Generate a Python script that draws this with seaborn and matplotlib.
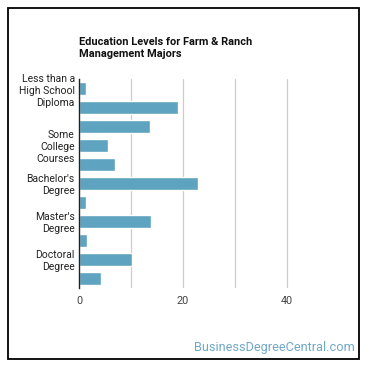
import matplotlib
matplotlib.use('Agg')
import matplotlib.pyplot as plt
from matplotlib.patches import Rectangle
import seaborn as sns
import pandas as pd

categories = [
    'Less than a High School Diploma',
    'High School Diploma',
    'Post-Secondary Certificate',
    'Some College Courses',
    "Associate's Degree",
    "Bachelor's Degree",
    'Post-Baccalaureate Certificate',
    "Master's Degree",
    "Post-Master's Certificate",
    'Doctoral Degree',
    'Post-Doctoral Training',
]
percents = [1.4, 19.1, 13.7, 5.6, 7.0, 22.9, 1.4, 13.9, 1.6, 10.1, 4.3]
# only some labels fit on the axis
shown_labels = ['Less than a\nHigh School\nDiploma', '', '', 'Some\nCollege\nCourses', '',
                "Bachelor's\nDegree", '', "Master's\nDegree", '', 'Doctoral\nDegree', '']
x_ticks = [0, 20, 40]
grid_lines = [10, 20, 30, 40]

title = 'Education Levels for Farm & Ranch\nManagement Majors'
watermark = 'BusinessDegreeCentral.com'

sns.set_style('white')
plt.rcParams['font.family'] = ['Roboto', 'DejaVu Sans']

df = pd.DataFrame({'level': categories, 'pct': percents})

fig = plt.figure(figsize=(3.7, 3.7), dpi=100)
ax = fig.add_axes([79 / 370, 1 - 288 / 370, 260 / 370, 209 / 370])

for g in grid_lines:
    ax.axvline(g, color='#cccccc', lw=0.9, zorder=0)

sns.barplot(data=df, x='pct', y='level', orient='h', color='#5ea3c0',
            saturation=1, width=0.67, ax=ax, zorder=2)

ax.set_xlim(0, 50)
ax.set_ylim(10.5, -0.5)
ax.set_xticks(x_ticks)
ax.set_xticklabels([str(t) for t in x_ticks], fontsize=7.8, color='#444444')
ax.set_yticks(range(len(categories)))
ax.set_yticklabels(shown_labels, fontsize=7.5, color='#222222', linespacing=1.25)
ax.tick_params(axis='both', length=0, pad=3)
ax.tick_params(axis='x', pad=6)
ax.set_xlabel('')
ax.set_ylabel('')
for s in ['top', 'right', 'bottom']:
    ax.spines[s].set_visible(False)
ax.spines['left'].set_color('#222222')
ax.spines['left'].set_linewidth(1)
ax.spines['left'].set_zorder(3)

fig.text(79 / 370, 1 - 48 / 370, title, fontsize=7.9, fontweight='bold',
         color='#111111', ha='left', va='center', linespacing=1.3)
fig.text(355 / 370, 1 - 347 / 370, watermark, fontsize=9.2, color='#6fa8c9',
         ha='right', va='center')

fig.patches.append(Rectangle((8 / 370, 1 - 359 / 370), 351 / 370, 351 / 370,
                             transform=fig.transFigure, fill=False,
                             edgecolor='black', lw=1.3))

fig.savefig('out.png', dpi=100)
